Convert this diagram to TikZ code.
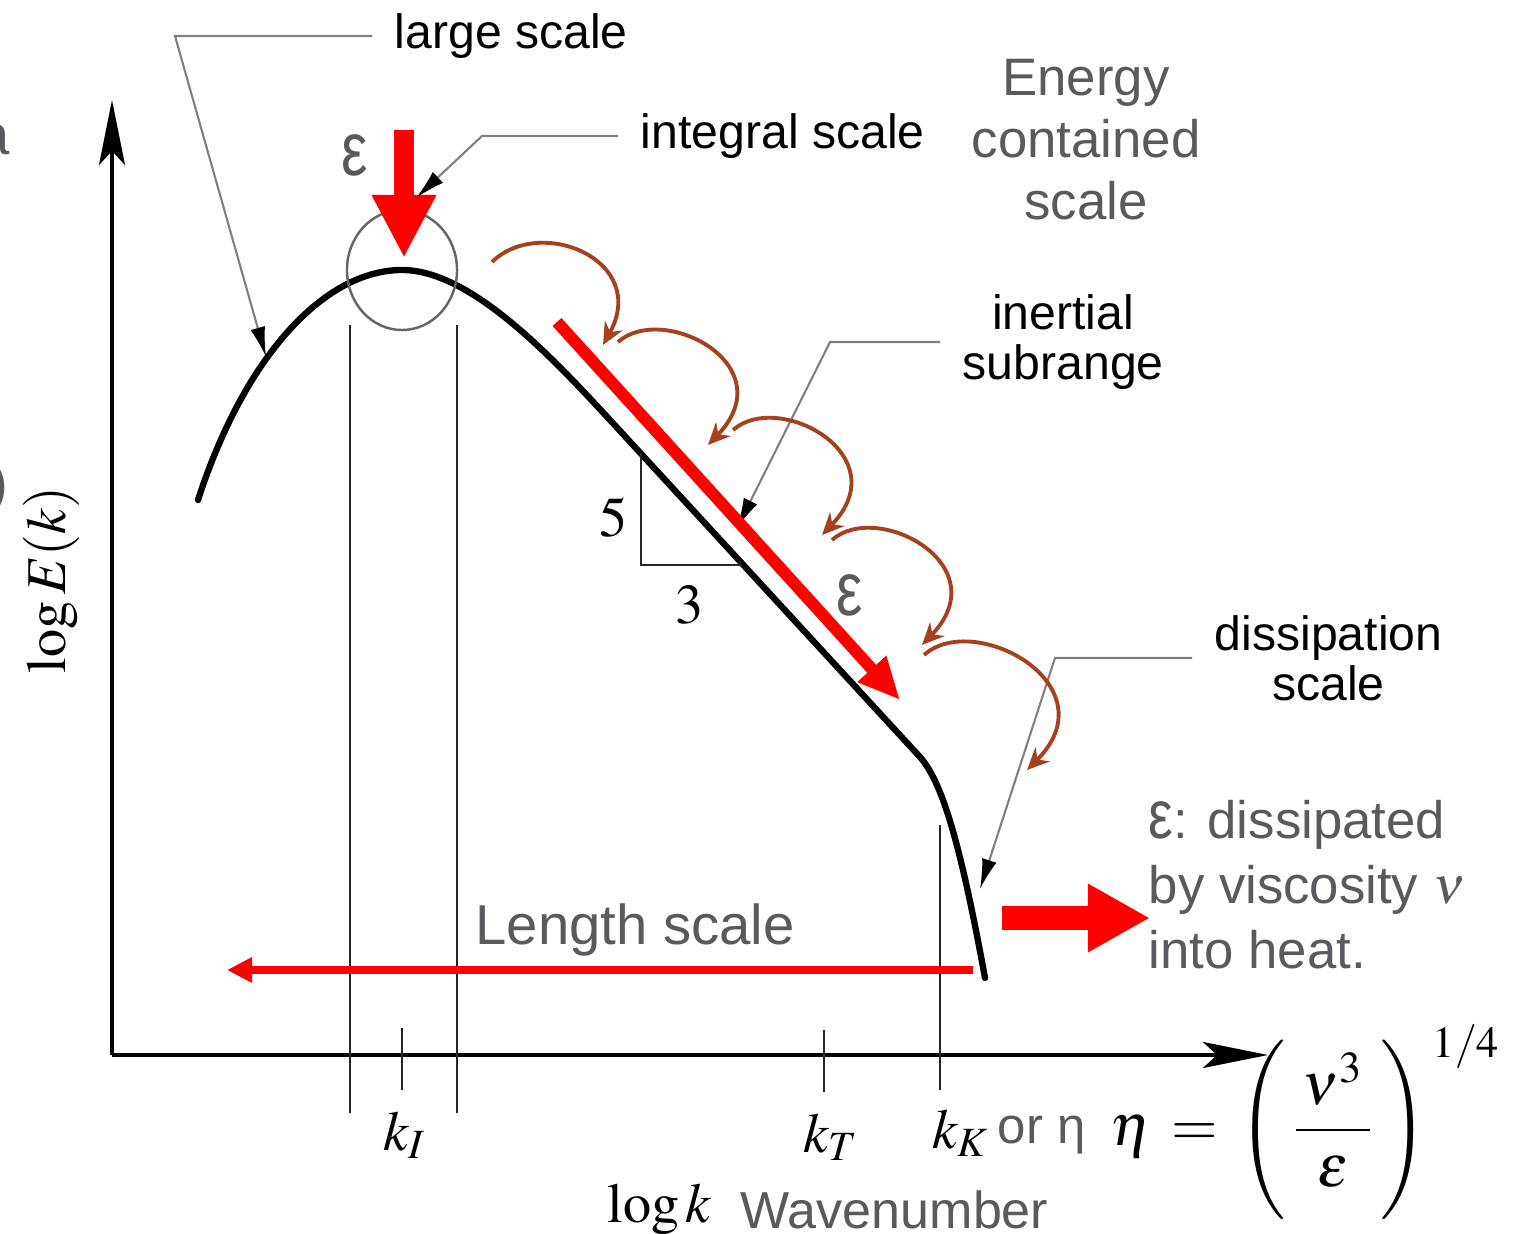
\documentclass[tikz,border=0pt]{standalone}
\usepackage{amsmath}
\usepackage{mathptmx}
\usepackage[no-math]{fontspec}
\setmainfont{Liberation Sans}
\usetikzlibrary{arrows.meta}
\definecolor{txtgray}{RGB}{89,89,94}
\definecolor{eddy}{RGB}{166,64,30}

\begin{document}
\begin{tikzpicture}[x=0.01cm, y=-0.01cm,
    lbl/.style={font=\fontsize{13.7}{14.2}\selectfont, align=center, inner xsep=0.22cm, inner ysep=0pt, anchor=west},
    gtxt/.style={text=txtgray, font=\fontsize{15}{17.6}\selectfont, align=center},
    mth/.style={font=\fontsize{16}{18}\selectfont, inner sep=0pt},
    axis/.style={line width=0.9pt, -{Stealth[length=0.65cm, width=0.26cm, inset=0.14cm]}},
    tick/.style={line width=0.65pt, black!85},
    spec/.style={line width=1.8pt, line cap=round},
    lead/.style={draw=black!50, line width=0.6pt, -{Latex[length=0.3cm, width=0.15cm, color=black]}},
    eddyarr/.style={eddy, line width=1.1pt, -{Stealth[length=0.22cm, width=0.2cm]}},
    fluxarr/.style={red, line width=3.4pt, -{Triangle[length=0.42cm, width=0.36cm]}}
]
\useasboundingbox (0,0) rectangle (1515,1234);

% axes
\coordinate (o) at (112,1055);
\coordinate (ytop) at (112,100);
\coordinate (xend) at (1268,1055);
\draw[axis] (o) -- (ytop);
\draw[axis] (o) -- (xend);

% wavenumber marks
\draw[tick] (350,325) -- (350,1113);
\draw[tick] (457,325) -- (457,1113);
\draw[tick] (402,1028) -- (402,1090);
\draw[tick] (824,1030) -- (824,1092);
\draw[tick] (940,825) -- (940,1090);

% spectrum
\draw[spec] (198,500) .. controls (245,355) and (325,270) .. (402,270)
    .. controls (470,270) and (550,355) .. (610,420) -- (920,757)
    .. controls (940,780) and (958,830) .. (985,978);
\draw[black!60, line width=0.7pt] (402,270) ellipse [x radius=0.55cm, y radius=0.6cm];

% slope triangle
\coordinate (triTop) at (641,453);
\coordinate (triCorner) at (641,565);
\coordinate (triRight) at (742,565);
\draw[tick] (triTop) -- (triCorner) -- (triRight);
\node[mth] (five) at (614,518) {$5$};
\node[mth] (three) at (690,605) {$3$};

% labels with leaders
\node[lbl] (large) at (372,36) {large scale};
\coordinate (largeBend) at (175,36);
\coordinate (largeTip) at (266,357);
\draw[lead] (large.west) -- (largeBend) -- (largeTip);

\node[lbl] (integ) at (618,136) {integral scale};
\coordinate (integBend) at (482,136);
\coordinate (integTip) at (416,198);
\draw[lead] (integ.west) -- (integBend) -- (integTip);

\node[lbl] (inert) at (940,342) {inertial\\subrange};
\coordinate (inertBend) at (830,342);
\coordinate (inertTip) at (737,528);
\draw[lead] (inert.west) -- (inertBend) -- (inertTip);

\node[lbl] (diss) at (1192,658) {dissipation\\scale};
\coordinate (dissBend) at (1055,658);
\coordinate (dissTip) at (980,889);
\draw[lead] (diss.west) -- (dissBend) -- (dissTip);

% energy input, cascade, dissipation
\coordinate (inTop) at (404,130);
\coordinate (inTip) at (404,258);
\draw[red, line width=5.7pt, -{Triangle[length=0.63cm, width=0.6cm]}] (inTop) -- (inTip);
\node[gtxt, font=\fontsize{16}{18}\selectfont] (epsIn) at (355,155) {\scalebox{1.05}[1.35]{ε}};

\coordinate (casA) at (557,322);
\coordinate (casB) at (900,700);
\draw[fluxarr] (casA) -- (casB);
\node[gtxt, font=\fontsize{16}{18}\selectfont] (epsCas) at (850,595) {\scalebox{1.05}[1.35]{ε}};

\draw[eddyarr] (492,262) .. controls (540,215) and (650,260) .. (603,345);
\draw[eddyarr] (618,342) .. controls (663,302) and (785,365) .. (708,445);
\draw[eddyarr] (733,430) .. controls (778,390) and (899,455) .. (822,535);
\draw[eddyarr] (832,540) .. controls (877,500) and (999,565) .. (922,645);
\draw[eddyarr] (924,655) .. controls (974,610) and (1112,685) .. (1027,770);

\coordinate (outA) at (1002,918);
\coordinate (outB) at (1150,918);
\draw[red, line width=6.8pt, -{Triangle[length=0.62cm, width=0.64cm]}] (outA) -- (outB);

\node[gtxt, align=left, anchor=west, inner sep=0pt, font=\fontsize{15}{18.5}\selectfont] (heat) at (1148,885) {\scalebox{1.05}[1.3]{ε}: dissipated\\by viscosity $\nu$\\into heat.};

\node[gtxt] (energy) at (1086,140) {Energy\\contained\\scale};

\coordinate (lenR) at (973,970);
\coordinate (lenL) at (227,970);
\draw[red, line width=2pt, -{Triangle[length=0.25cm, width=0.24cm]}] (lenR) -- (lenL);
\node[gtxt, font=\fontsize{16}{18}\selectfont] (len) at (635,930) {Length scale};

% axis labels
\node[mth, rotate=90] (ylab) at (51,580) {$\log E(k)$};
\node[mth, anchor=base west] (kI) at (383,1150) {$k_I$};
\node[mth, anchor=base west] (kT) at (803,1152) {$k_T$};
\node[mth, anchor=base west] (kK) at (932,1148) {$k_K$};
\node[gtxt, anchor=base west, inner sep=0pt, font=\fontsize{14.5}{16}\selectfont] (oreta) at (997,1143) {or η};
\node[mth, anchor=base west, font=\fontsize{17}{19}\selectfont] (eta) at (1110,1145) {$\eta \,=\, \Biggl(\mkern2mu\dfrac{\,\nu^3\,}{\varepsilon}\mkern2mu\Biggr)^{\,1/4}$};
\node[mth, anchor=base west] (logk) at (607,1222) {$\log k$};
\node[gtxt, anchor=base west, inner sep=0pt, font=\fontsize{14.8}{16}\selectfont] (wave) at (740,1228) {Wavenumber};

% cut-off text at the left edge
\node[gtxt, anchor=base west, inner sep=0pt, font=\fontsize{16}{18}\selectfont] (cutA) at (-22,155) {a};
\node[gtxt, anchor=base east, inner sep=0pt, font=\fontsize{16}{18}\selectfont] (cutB) at (9,503) {)};
\end{tikzpicture}
\end{document}
